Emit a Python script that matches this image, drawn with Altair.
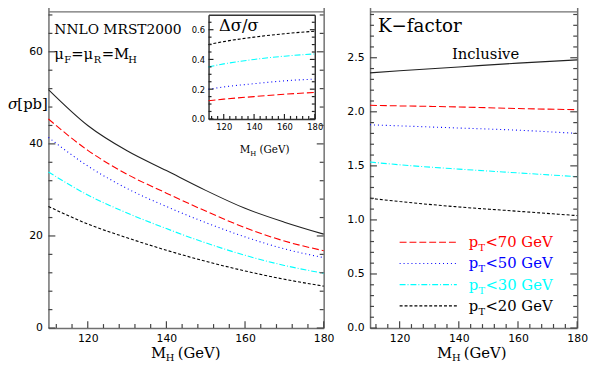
import altair as alt
import pandas as pd

# ---------------- data ----------------
MH = [110, 120, 130, 140, 150, 160, 170, 180]
SIG_INCL = [51.8, 44.0, 38.5, 34.2, 29.9, 26.0, 23.0, 20.4]
SIG_PT70 = [45.4, 38.6, 33.4, 29.3, 25.4, 21.8, 18.9, 16.8]
SIG_PT50 = [41.4, 35.2, 30.3, 26.4, 22.9, 19.8, 17.2, 15.3]
SIG_PT30 = [33.9, 28.9, 25.0, 21.6, 18.5, 15.8, 13.6, 11.9]
SIG_PT20 = [26.4, 22.6, 19.6, 16.9, 14.5, 12.4, 10.6, 9.1]

MH_K = [110, 120, 140, 160, 180]
K_INCL = [2.36, 2.38, 2.415, 2.45, 2.48]
K_PT70 = [2.06, 2.055, 2.045, 2.03, 2.02]
K_PT50 = [1.88, 1.87, 1.85, 1.83, 1.80]
K_PT30 = [1.535, 1.51, 1.47, 1.435, 1.40]
K_PT20 = [1.20, 1.17, 1.12, 1.08, 1.04]

MH_D = [110, 120, 140, 160, 180]
D_PT70 = [0.122, 0.133, 0.150, 0.166, 0.178]
D_PT50 = [0.200, 0.215, 0.237, 0.256, 0.268]
D_PT30 = [0.350, 0.370, 0.400, 0.422, 0.437]
D_PT20 = [0.500, 0.520, 0.550, 0.573, 0.590]

SERIES = ["Inclusive", "pT<70", "pT<50", "pT<30", "pT<20"]
LEGEND_CUTS = ["<70 GeV", "<50 GeV", "<30 GeV", "<20 GeV"]

X_MAJOR = [120, 140, 160, 180]
X_MINOR = [112, 116, 124, 128, 132, 136, 144, 148, 152, 156, 164, 168, 172, 176]
SIG_MAJOR = [0, 20, 40, 60]
SIG_MINOR = [4, 8, 12, 16, 24, 28, 32, 36, 44, 48, 52, 56, 64, 68]
K_MAJOR = [0.0, 0.5, 1.0, 1.5, 2.0, 2.5]
K_MINOR = [0.1, 0.2, 0.3, 0.4, 0.6, 0.7, 0.8, 0.9, 1.1, 1.2, 1.3, 1.4, 1.6, 1.7, 1.8, 1.9,
           2.1, 2.2, 2.3, 2.4, 2.6, 2.7, 2.8, 2.9]
D_MAJOR = [0.0, 0.2, 0.4, 0.6]
D_MINOR = [0.05, 0.1, 0.15, 0.25, 0.3, 0.35, 0.45, 0.5, 0.55, 0.65]

# ---------------- styles ----------------
STYLE = {
    "Inclusive": ("#222222", None),
    "pT<70": ("#ff0000", [7, 3]),
    "pT<50": ("#0000ff", [1, 3]),
    "pT<30": ("#00ffff", [6, 2, 1, 2]),
    "pT<20": ("#000000", [3, 2]),
}
SERIF = "DejaVu Serif"
SANS = "DejaVu Sans"
W, H = 536, 322


def long_df(xs, cols):
    rows = []
    for name, vals in cols:
        for x, v in zip(xs, vals):
            rows.append({"mh": x, "val": v, "series": name})
    return pd.DataFrame(rows)


df_sig = long_df(MH, [("Inclusive", SIG_INCL), ("pT<70", SIG_PT70), ("pT<50", SIG_PT50),
                      ("pT<30", SIG_PT30), ("pT<20", SIG_PT20)])
df_k = long_df(MH_K, [("Inclusive", K_INCL), ("pT<70", K_PT70), ("pT<50", K_PT50),
                      ("pT<30", K_PT30), ("pT<20", K_PT20)])
df_d = long_df(MH_D, [("pT<70", D_PT70), ("pT<50", D_PT50), ("pT<30", D_PT30), ("pT<20", D_PT20)])


def line_layers(df, xsc, ysc, names):
    out = []
    for s in names:
        color, dash = STYLE[s]
        kw = dict(color=color, strokeWidth=1.1, interpolate="monotone")
        if dash:
            kw["strokeDash"] = dash
        out.append(
            alt.Chart(df).transform_filter(alt.datum.series == s).mark_line(**kw).encode(
                x=alt.X("mh:Q", scale=xsc, axis=None),
                y=alt.Y("val:Q", scale=ysc, axis=None),
            )
        )
    return out


def frame_layers(df, xsc, ysc, box, xmaj, ymaj, yfmt, st):
    x0, x1, ytop, ybot = box

    def A(**kw):
        d = dict(title=None, grid=False, labels=False, ticks=False, tickSize=0, domain=True,
                 domainColor=st["fc"], domainWidth=st["fw"])
        d.update(kw)
        return alt.Axis(**d)

    lab = dict(labelFont=SANS, labelFontSize=st["lfs"], labelColor="black", labelOverlap=False)
    xaxes = [
        A(orient="bottom", offset=-(H - ybot), values=xmaj, format="d", labels=True,
          labelPadding=st["xpad"], labelFlush=False, **lab),
        A(orient="top", offset=-ytop, values=xmaj),
    ]
    yaxes = [
        A(orient="left", offset=-x0, values=ymaj, format=yfmt, labels=True,
          labelPadding=st["ypad"], **lab),
        A(orient="right", offset=-(W - x1), values=ymaj),
    ]
    return [
        alt.Chart(df).mark_point(opacity=0, size=1).encode(
            x=alt.X("mh:Q", scale=xsc, axis=xa),
            y=alt.Y("val:Q", scale=ysc, axis=ya),
        )
        for xa, ya in zip(xaxes, yaxes)
    ]


def tick_layers(xsc, ysc, box, xmaj, xmin, ymaj, ymin, st):
    x0, x1, ytop, ybot = box
    out = []
    for vals, L in [(xmaj, st["lmaj"]), (xmin, st["lmin"])]:
        d = pd.DataFrame({"tv": vals})
        out.append(
            alt.Chart(d).mark_tick(orient="vertical", size=L, thickness=st["tw"],
                                   color=st["tc"], opacity=1).encode(
                x=alt.X("tv:Q", scale=xsc, axis=None),
                y=alt.value(ybot - L / 2),
            )
        )
    for vals, L in [(ymaj, st["lmaj"]), (ymin, st["lmin"])]:
        d = pd.DataFrame({"tv": vals})
        for xc in [x0 + L / 2, x1 - L / 2]:
            out.append(
                alt.Chart(d).mark_tick(orient="horizontal", size=L, thickness=st["tw"],
                                       color=st["tc"], opacity=1).encode(
                    y=alt.Y("tv:Q", scale=ysc, axis=None),
                    x=alt.value(xc),
                )
            )
    return out


MAIN_ST = dict(lfs=11, fc="#707070", fw=1.5, tc="#444444", tw=1.2, lmaj=7, lmin=4, xpad=5, ypad=6)
INSET_ST = dict(lfs=8.5, fc="#333333", fw=1.5, tc="#222222", tw=1.2, lmaj=5, lmin=3, xpad=4, ypad=4)

# left panel: sigma
xs_l = alt.Scale(domain=[110, 180], range=[0, 279], nice=False, zero=False)
ys_l = alt.Scale(domain=[0, 70], range=[322, -4.7], nice=False, zero=False)
# right panel: K-factor
xs_r = alt.Scale(domain=[110, 180], range=[326, 536], nice=False, zero=False)
ys_r = alt.Scale(domain=[0, 3], range=[322, -6.8], nice=False, zero=False)
# inset: delta sigma / sigma
xs_i = alt.Scale(domain=[110, 180], range=[162.3, 270], nice=False, zero=False)
ys_i = alt.Scale(domain=[0, 0.7], range=[110, 4.5], nice=False, zero=False)

BOX_L = (0, 279, 1, 322)
BOX_R = (326, 536, 1, 322)
BOX_I = (162.3, 270, 4.5, 110)

frames = (
    frame_layers(df_sig, xs_l, ys_l, BOX_L, X_MAJOR, SIG_MAJOR, "d", MAIN_ST)
    + frame_layers(df_k, xs_r, ys_r, BOX_R, X_MAJOR, K_MAJOR, ".1f", MAIN_ST)
    + frame_layers(df_d, xs_i, ys_i, BOX_I, X_MAJOR, D_MAJOR, ".1f", INSET_ST)
)
lines = (
    line_layers(df_sig, xs_l, ys_l, SERIES)
    + line_layers(df_k, xs_r, ys_r, SERIES)
    + line_layers(df_d, xs_i, ys_i, SERIES[1:])
)
ticks = (
    tick_layers(xs_l, ys_l, BOX_L, X_MAJOR, X_MINOR, SIG_MAJOR, SIG_MINOR, MAIN_ST)
    + tick_layers(xs_r, ys_r, BOX_R, X_MAJOR, X_MINOR, K_MAJOR, K_MINOR, MAIN_ST)
    + tick_layers(xs_i, ys_i, BOX_I, X_MAJOR, X_MINOR, D_MAJOR, D_MINOR, INSET_ST)
)

ONE = pd.DataFrame({"k": [0]})


def txt(s, x, y, size, color="black", font=SERIF, style="normal"):
    return alt.Chart(ONE).mark_text(
        text=s, font=font, fontSize=size, color=color, align="left",
        baseline="alphabetic", fontStyle=style,
    ).encode(x=alt.value(x), y=alt.value(y))


annot = [
    txt("NNLO MRST2000", 6, 24, 14),
    txt("μ", 6, 49, 15), txt("F", 16, 53, 10), txt("=μ", 23, 49, 15),
    txt("R", 46, 53, 10), txt("=M", 54, 49, 15), txt("H", 81, 53, 10),
    txt("σ", -41, 100, 15, style="italic"), txt("[pb]", -31.5, 100, 15),
    txt("Δσ/σ", 173, 21, 16.5),
    txt("M", 104, 352, 15), txt("H", 119, 355, 10), txt("(GeV)", 131, 352, 15),
    txt("M", 394, 352, 15), txt("H", 409, 355, 10), txt("(GeV)", 421, 352, 15),
    txt("M", 194, 145, 10.5), txt("H", 204.5, 148, 7), txt("(GeV)", 214, 145, 10.5),
    txt("K−factor", 334, 22, 18.5),
    txt("Inclusive", 409, 49, 15),
]

legend = []
LEG_Y = [235, 256.5, 278, 299.5]
for s, cut, ly in zip(SERIES[1:], LEGEND_CUTS, LEG_Y):
    color, dash = STYLE[s]
    legend.append(
        alt.Chart(ONE).mark_rule(color=color, strokeWidth=1.1, strokeDash=dash).encode(
            x=alt.value(356), x2=alt.value(414), y=alt.value(ly)
        )
    )
    legend.append(txt("p", 426, ly + 5, 15, color=color))
    legend.append(txt("T", 436, ly + 9, 10, color=color))
    legend.append(txt(cut, 443, ly + 5, 15, color=color))

chart = alt.layer(*frames, *lines, *ticks, *annot, *legend).resolve_scale(
    x="independent", y="independent"
).properties(
    width=W, height=H,
    padding={"left": 41, "top": 0, "right": 14, "bottom": 32},
    autosize=alt.AutoSizeParams(type="none"),
).configure_view(stroke=None)

chart.save("out.html", embed_options={"renderer": "svg", "actions": False})
